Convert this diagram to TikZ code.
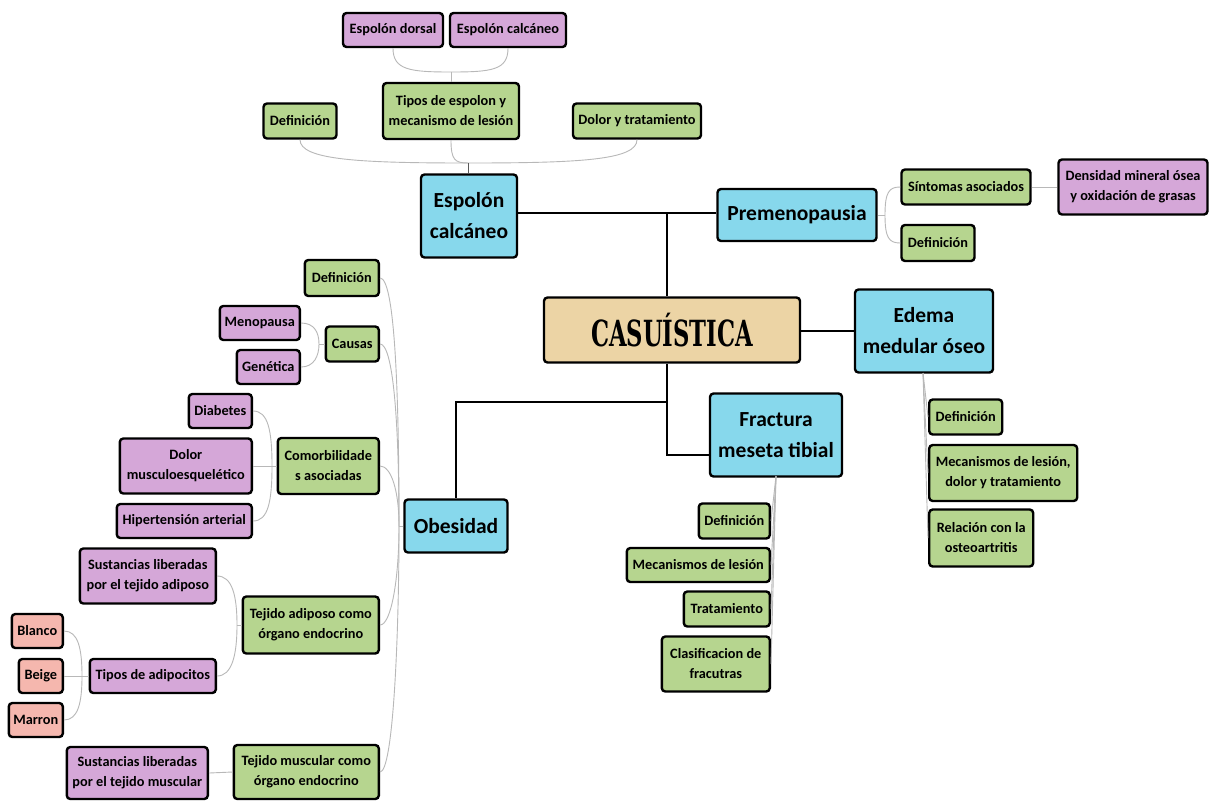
\documentclass[tikz,border=0pt]{standalone}
\usepackage{fontspec}
\setmainfont{Carlito}
\newfontfamily\slabfont{DejaVu Serif}
\usepackage{graphicx}
\definecolor{cblue}{HTML}{87D8EC}
\definecolor{cgreen}{HTML}{B6D58F}
\definecolor{cpurple}{HTML}{D5A7D8}
\definecolor{csalmon}{HTML}{F5B7AE}
\definecolor{ctan}{HTML}{ECD4A5}
\definecolor{clink}{HTML}{B8B8B8}
\begin{document}
\begin{tikzpicture}[x=1pt,y=-1pt,
  box/.style={draw=black, line width=2.4pt, rounded corners=3.5pt, align=center,
    inner sep=1pt, font=\fontsize{14.3}{20}\selectfont\bfseries},
  gbox/.style={box, fill=cgreen},
  pbox/.style={box, fill=cpurple},
  sbox/.style={box, fill=csalmon},
  bbox/.style={box, fill=cblue, font=\fontsize{21.5}{31}\selectfont\bfseries},
  main/.style={draw=black, line width=2.8pt},
  link/.style={draw=clink, line width=0.9pt},
  hublink/.style={draw=black!65, line width=0.9pt}
]
\useasboundingbox (0,0) rectangle (1214,801);
\fill[white] (0,0) rectangle (1214,801);

% ---------- central topic and main branches ----------
\node[box, fill=ctan, minimum width=256, minimum height=65] (cas) at (672,330)
  {\scalebox{0.63}[1]{\fontsize{36}{36}\selectfont\slabfont\bfseries CASUÍSTICA}};
\node[bbox, minimum width=96, minimum height=83] (espo) at (469,216) {Espolón\\calcáneo};
\node[bbox, minimum width=159, minimum height=52] (prem) at (797,215) {Premenopausia};
\node[bbox, minimum width=138, minimum height=83] (ede) at (924,331) {Edema\\medular óseo};
\node[bbox, minimum width=132, minimum height=83] (fra) at (776,435) {Fractura\\meseta tibial};
\node[bbox, minimum width=103, minimum height=53] (obe) at (456,526) {Obesidad};

\coordinate (jtop) at (667,213);
\coordinate (jbot) at (667,402);
\draw[main] (espo.east |- jtop) -- (prem.west |- jtop);
\draw[main] (jtop) -- (cas.north -| jtop);
\draw[main] (cas.east |- ede.west) -- (ede.west);
\draw[main] (cas.south -| jbot) -- (jbot |- 0,455) -- (fra.west |- 0,455);
\draw[main] (jbot) -| (obe.north);

% ---------- Espolón calcáneo ----------
\node[pbox, minimum width=100, minimum height=34] (esd) at (393,30) {Espolón dorsal};
\node[pbox, minimum width=116, minimum height=34] (esc) at (508,30) {Espolón calcáneo};
\node[gbox, minimum width=136, minimum height=56] (tip) at (451,111) {Tipos de espolon y\\mecanismo de lesión};
\node[gbox, minimum width=73, minimum height=35] (def1) at (300,121) {Definición};
\node[gbox, minimum width=128, minimum height=35] (dol) at (637,121) {Dolor y tratamiento};

\coordinate (htip) at (451,72);
\draw[link] (esd.south) .. controls (393,70) and (410,72) .. (htip);
\draw[link] (esc.south) .. controls (508,70) and (492,72) .. (htip);
\draw[link] (htip) -- (tip.north);
\coordinate (hesp) at (468,163);
\draw[link] (def1.south) .. controls (300,160) and (360,163) .. (hesp);
\draw[link] (dol.south) .. controls (637,160) and (580,163) .. (hesp);
\draw[link] (tip.south) .. controls (451,160) and (455,163) .. (hesp);
\draw[hublink] (hesp) -- (espo.north -| hesp);

% ---------- Premenopausia ----------
\node[gbox, minimum width=129, minimum height=35] (sint) at (966,187) {Síntomas asociados};
\node[gbox, minimum width=73, minimum height=36] (def2) at (938,243) {Definición};
\node[pbox, minimum width=149, minimum height=55] (dens) at (1133,187) {Densidad mineral ósea\\y oxidación de grasas};
\coordinate (hprem) at (885,215);
\draw[link] (prem.east) -- (hprem);
\draw[link] (hprem) .. controls (885,192) and (889,187) .. (sint.west);
\draw[link] (hprem) .. controls (885,238) and (889,243) .. (def2.west);
\draw[link] (sint.east) -- (dens.west);

% ---------- Edema medular óseo ----------
\node[gbox, minimum width=73, minimum height=35, anchor=west] (def3) at (928,417) {Definición};
\node[gbox, minimum width=148, minimum height=56, anchor=west] (mec3) at (928,473) {Mecanismos de lesión,\\dolor y tratamiento};
\node[gbox, minimum width=104, minimum height=57, anchor=west] (rel) at (928,538) {Relación con la\\osteoartritis};
\coordinate (hede) at (923,373);
\draw[link] (hede) -- (def3.west);
\draw[link] (hede) -- (mec3.west);
\draw[link] (hede) -- (rel.west);

% ---------- Fractura meseta tibial ----------
\node[gbox, minimum width=71, minimum height=35, anchor=east] (def4) at (771,521) {Definición};
\node[gbox, minimum width=143, minimum height=34, anchor=east] (mec4) at (771,565) {Mecanismos de lesión};
\node[gbox, minimum width=86, minimum height=35, anchor=east] (tra) at (771,609) {Tratamiento};
\node[gbox, minimum width=108, minimum height=55, anchor=east] (cla) at (771,664) {Clasificacion de\\fracutras};
\coordinate (hfra) at (776,476);
\draw[link] (hfra) -- (def4.east);
\draw[link] (hfra) -- (mec4.east);
\draw[link] (hfra) -- (tra.east);
\draw[link] (hfra) -- (cla.east);

% ---------- Obesidad ----------
\node[gbox, minimum width=74, minimum height=36, anchor=east] (def5) at (380,278) {Definición};
\node[gbox, minimum width=53, minimum height=35, anchor=east] (cau) at (380,344) {Causas};
\node[gbox, minimum width=101, minimum height=56, anchor=east] (com) at (380,466) {Comorbilidade\\s asociadas};
\node[gbox, minimum width=136, minimum height=57, anchor=east] (tad) at (380,625) {Tejido adiposo como\\órgano endocrino};
\node[gbox, minimum width=145, minimum height=54, anchor=east] (tmu) at (380,772) {Tejido muscular como\\órgano endocrino};

\coordinate (hobe) at (399,526);
\draw[link] (obe.west) -- (hobe);
\draw[link] (def5.east) .. controls (394,278) and (399,380) .. (hobe);
\draw[link] (cau.east) .. controls (393,344) and (399,420) .. (hobe);
\draw[link] (com.east) .. controls (391,466) and (399,490) .. (hobe);
\draw[link] (tad.east) .. controls (391,625) and (399,580) .. (hobe);
\draw[link] (tmu.east) .. controls (393,772) and (399,640) .. (hobe);

% Causas
\node[pbox, minimum width=80, minimum height=34, anchor=east] (men) at (301,323) {Menopausa};
\node[pbox, minimum width=63, minimum height=34, anchor=east] (gen) at (301,367) {Genética};
\coordinate (hcau) at (319,344);
\draw[link] (cau.west) -- (hcau);
\draw[link] (men.east) .. controls (314,323) and (319,332) .. (hcau);
\draw[link] (gen.east) .. controls (314,367) and (319,356) .. (hcau);

% Comorbilidades asociadas
\node[pbox, minimum width=63, minimum height=34, anchor=east] (dia) at (253,411) {Diabetes};
\node[pbox, minimum width=132, minimum height=55, anchor=east] (dmu) at (253,466) {Dolor\\musculoesquelético};
\node[pbox, minimum width=135, minimum height=34, anchor=east] (hip) at (253,521) {Hipertensión arterial};
\coordinate (hcom) at (272,466);
\draw[link] (com.west) -- (hcom);
\draw[link] (dmu.east) -- (hcom);
\draw[link] (dia.east) .. controls (268,411) and (272,430) .. (hcom);
\draw[link] (hip.east) .. controls (268,521) and (272,502) .. (hcom);

% Tejido adiposo como órgano endocrino
\node[pbox, minimum width=136, minimum height=55, anchor=east] (sad) at (217,576) {Sustancias liberadas\\por el tejido adiposo};
\node[pbox, minimum width=126, minimum height=34, anchor=east] (tia) at (217,676) {Tipos de adipocitos};
\coordinate (htad) at (237,625);
\draw[link] (tad.west) -- (htad);
\draw[link] (sad.east) .. controls (232,576) and (237,595) .. (htad);
\draw[link] (tia.east) .. controls (232,676) and (237,655) .. (htad);

% Tipos de adipocitos
\node[sbox, minimum width=51, minimum height=34, anchor=east] (bla) at (64,631) {Blanco};
\node[sbox, minimum width=44, minimum height=34, anchor=east] (bei) at (64,676) {Beige};
\node[sbox, minimum width=54, minimum height=34, anchor=east] (mar) at (64,720) {Marron};
\coordinate (htia) at (82,676);
\draw[link] (tia.west) -- (htia);
\draw[link] (bei.east) -- (htia);
\draw[link] (bla.east) .. controls (78,631) and (82,648) .. (htia);
\draw[link] (mar.east) .. controls (78,720) and (82,703) .. (htia);

% Tejido muscular como órgano endocrino
\node[pbox, minimum width=141, minimum height=52, anchor=east] (smu) at (209,773) {Sustancias liberadas\\por el tejido muscular};
\draw[link] (smu.east) -- (tmu.west);
\end{tikzpicture}
\end{document}
